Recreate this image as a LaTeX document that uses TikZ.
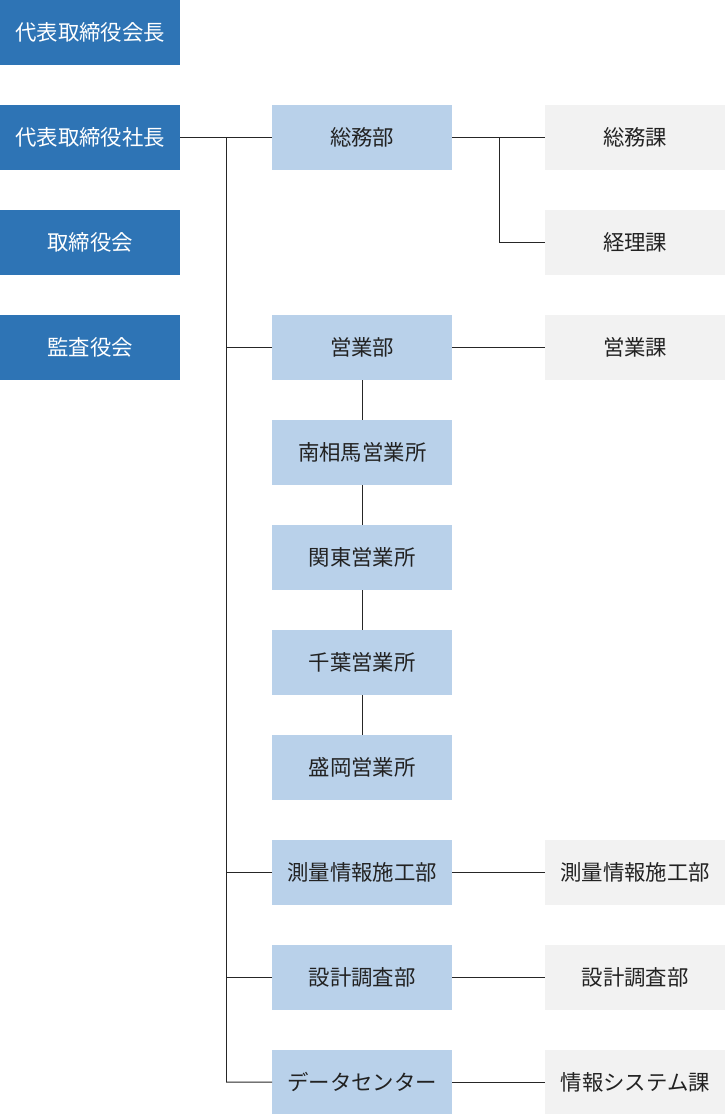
\documentclass[tikz,border=0pt]{standalone}
\usepackage{fontspec}
\setmainfont{Noto Sans CJK JP}
\definecolor{darkbl}{HTML}{2E74B5}
\definecolor{lightbl}{HTML}{B9D1EA}
\definecolor{lgray}{HTML}{F2F2F2}
\definecolor{txt}{HTML}{222222}
\begin{document}
\begin{tikzpicture}[x=1pt,y=-1pt,
  box/.style={anchor=north west,minimum width=180pt,minimum height=65pt,inner sep=0pt,font=\fontsize{21.4}{24}\selectfont},
  topbox/.style={box,fill=darkbl,text=white},
  midbox/.style={box,fill=lightbl,text=txt},
  subbox/.style={box,fill=lgray,text=txt},
  conn/.style={draw=black!85,line width=1pt}]
\useasboundingbox (0,0) rectangle (725,1114);
% left column
\node[topbox] (kaicho) at (0,0) {代表取締役会長};
\node[topbox] (shacho) at (0,105) {代表取締役社長};
\node[topbox] (torishimariyakukai) at (0,210) {取締役会};
\node[topbox] (kansayaku) at (0,315) {監査役会};
% middle column
\node[midbox] (somubu) at (272,105) {総務部};
\node[midbox] (eigyobu) at (272,315) {営業部};
\node[midbox] (minami) at (272,420) {南相馬営業所};
\node[midbox] (kanto) at (272,525) {関東営業所};
\node[midbox] (chiba) at (272,630) {千葉営業所};
\node[midbox] (morioka) at (272,735) {盛岡営業所};
\node[midbox] (sokuryo) at (272,840) {測量情報施工部};
\node[midbox] (sekkei) at (272,945) {設計調査部};
\node[midbox,minimum height=64pt] (data) at (272,1050) {データセンター};
% right column
\node[subbox] (somuka) at (545,105) {総務課};
\node[subbox] (keirika) at (545,210) {経理課};
\node[subbox] (eigyoka) at (545,315) {営業課};
\node[subbox] (sokuryo2) at (545,840) {測量情報施工部};
\node[subbox] (sekkei2) at (545,945) {設計調査部};
\node[subbox,minimum height=64pt] (joho) at (545,1050) {情報システム課};
% trunk
\coordinate (trunktop) at (226,137.5);
\coordinate (trunkbot) at (226,1082);
\draw[conn] (shacho.east) -- (somubu.west);
\draw[conn] (trunktop) -- (trunkbot);
\draw[conn] (eigyobu.west) -- (eigyobu.west -| trunktop);
\draw[conn] (sokuryo.west) -- (sokuryo.west -| trunktop);
\draw[conn] (sekkei.west) -- (sekkei.west -| trunktop);
\draw[conn] (data.west) -- (trunkbot);
% somubu branch
\coordinate (sbranch) at (499,137.5);
\draw[conn] (somubu.east) -- (somuka.west);
\draw[conn] (sbranch) |- (keirika.west);
% eigyo chain
\draw[conn] (eigyobu.east) -- (eigyoka.west);
\draw[conn] (eigyobu.south) -- (minami.north);
\draw[conn] (minami.south) -- (kanto.north);
\draw[conn] (kanto.south) -- (chiba.north);
\draw[conn] (chiba.south) -- (morioka.north);
% other departments
\draw[conn] (sokuryo.east) -- (sokuryo2.west);
\draw[conn] (sekkei.east) -- (sekkei2.west);
\draw[conn] (data.east) -- (joho.west);
\end{tikzpicture}
\end{document}
